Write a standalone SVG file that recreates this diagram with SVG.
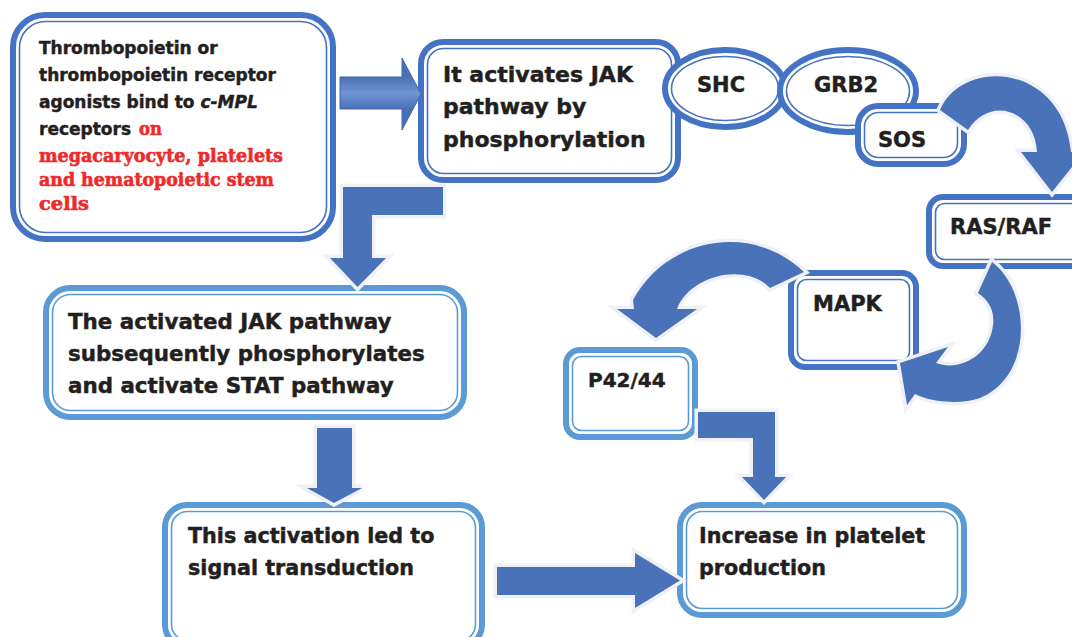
<svg xmlns="http://www.w3.org/2000/svg" width="1072" height="637" viewBox="0 0 1072 637">
  <defs>
    <linearGradient id="g1" x1="0" y1="77" x2="0" y2="109" gradientUnits="userSpaceOnUse">
      <stop offset="0" stop-color="#4a70b6"/>
      <stop offset="0.5" stop-color="#6f95d4"/>
      <stop offset="1" stop-color="#4a70b6"/>
    </linearGradient>
  </defs>
  <style>
    .ob { fill: #ffffff; stroke: #4472c4; stroke-width: 6; }
    .ib { fill: none; stroke: #4472c4; stroke-width: 1.6; }
    .obl { fill: #ffffff; stroke: #5b9bd5; stroke-width: 6; }
    .ibl { fill: none; stroke: #5b9bd5; stroke-width: 1.6; }
    .t { font-family: "DejaVu Sans", "Liberation Sans", sans-serif; font-weight: bold; fill: #231f20; stroke: #231f20; stroke-width: 0.45; }
    .r { font-family: "DejaVu Serif", "Liberation Serif", serif; font-weight: bold; fill: #ee2a2a; stroke: #ee2a2a; stroke-width: 0.6; }
    .blk { fill: #4a72b8; stroke: #eff1f6; stroke-width: 7; stroke-linejoin: miter; paint-order: stroke; }
  </style>
  <rect width="1072" height="637" fill="#ffffff"/>

  <g id="node-tpo">
    <rect class="ob" x="13" y="15" width="320" height="224" rx="32"/>
    <rect class="ib" x="19.5" y="21.5" width="307" height="211" rx="26"/>
    <text class="t" font-size="17" x="39" y="54">Thrombopoietin or</text>
    <text class="t" font-size="17" x="39" y="81">thrombopoietin receptor</text>
    <text class="t" font-size="17" x="39" y="108">agonists bind to <tspan font-style="italic">c-MPL</tspan></text>
    <text class="t" font-size="17" x="39" y="135">receptors</text>
    <text class="r" font-size="18" x="139" y="135" textLength="23" lengthAdjust="spacingAndGlyphs">on</text>
    <text class="r" font-size="18" x="39" y="162" textLength="244" lengthAdjust="spacingAndGlyphs">megacaryocyte, platelets</text>
    <text class="r" font-size="18" x="39" y="186" textLength="235" lengthAdjust="spacingAndGlyphs">and hematopoietic stem</text>
    <text class="r" font-size="18" x="39" y="210" textLength="50" lengthAdjust="spacingAndGlyphs">cells</text>
  </g>

  <g id="node-jak">
    <rect class="ob" x="421" y="42" width="257" height="138" rx="22"/>
    <rect class="ib" x="427.5" y="48.5" width="244" height="125" rx="16"/>
    <text class="t" font-size="22" x="443" y="82">It activates JAK</text>
    <text class="t" font-size="22" x="443" y="114">pathway by</text>
    <text class="t" font-size="22" x="443" y="147">phosphorylation</text>
  </g>

  <g id="node-shc">
    <ellipse class="ob" cx="725" cy="88.5" rx="60" ry="38.5"/>
    <ellipse class="ib" cx="725" cy="88.5" rx="53.5" ry="32"/>
    <text class="t" font-size="21" x="721" y="92" text-anchor="middle">SHC</text>
  </g>

  <g id="node-grb2">
    <ellipse class="ob" cx="848" cy="91" rx="68" ry="41"/>
    <ellipse class="ib" cx="848" cy="91" rx="61.5" ry="34.5"/>
    <text class="t" font-size="21" x="814" y="92">GRB2</text>
  </g>

  <g id="node-sos">
    <rect class="ob" x="858" y="106" width="106" height="58" rx="20"/>
    <rect class="ib" x="864.5" y="112.5" width="93" height="45" rx="14"/>
    <text class="t" font-size="21" x="878" y="147">SOS</text>
  </g>

  <g id="node-rasraf">
    <rect class="ob" x="929" y="197" width="160" height="69" rx="14"/>
    <rect class="ib" x="935.5" y="203.5" width="147" height="56" rx="9"/>
    <text class="t" font-size="21" x="950" y="234">RAS/RAF</text>
  </g>

  <g id="node-mapk">
    <rect class="ob" x="791" y="273" width="125" height="94" rx="14"/>
    <rect class="ib" x="797.5" y="279.5" width="112" height="81" rx="9"/>
    <text class="t" font-size="21" x="813" y="311">MAPK</text>
  </g>

  <g id="node-p4244">
    <rect class="obl" x="566" y="350" width="129" height="87" rx="14"/>
    <rect class="ibl" x="572.5" y="356.5" width="116" height="74" rx="9"/>
    <text class="t" font-size="20" x="588" y="387">P42/44</text>
  </g>

  <g id="node-stat">
    <rect class="obl" x="46" y="288" width="418" height="129" rx="24"/>
    <rect class="ibl" x="52.5" y="294.5" width="405" height="116" rx="18"/>
    <text class="t" font-size="21.4" x="68" y="329">The activated JAK pathway</text>
    <text class="t" font-size="21.4" x="68" y="361">subsequently phosphorylates</text>
    <text class="t" font-size="21.4" x="68" y="393">and activate STAT pathway</text>
  </g>

  <g id="node-signal">
    <rect class="obl" x="165" y="505" width="317" height="142" rx="22"/>
    <rect class="ibl" x="171.5" y="511.5" width="304" height="129" rx="16"/>
    <text class="t" font-size="20.7" x="188" y="543">This activation led to</text>
    <text class="t" font-size="20.7" x="188" y="575">signal transduction</text>
  </g>

  <g id="node-platelet">
    <rect class="obl" x="680" y="505" width="284" height="110" rx="22"/>
    <rect class="ibl" x="686.5" y="511.5" width="271" height="97" rx="16"/>
    <text class="t" font-size="20.7" x="699" y="543">Increase in platelet</text>
    <text class="t" font-size="20.7" x="699" y="575">production</text>
  </g>

  <g id="connectors">
    <path d="M340,77 L402,77 L402,58 L421,94 L402,130 L402,109 L340,109 Z" fill="url(#g1)" stroke="#4168ae" stroke-width="1"/>
    <path class="blk" d="M443,187 L443,215 L372,215 L372,258 L386,258 L357.5,287 L330,258 L343,258 L343,187 Z"/>
    <path class="blk" d="M317,428 L352,428 L352,488 L362,488 L334,503 L307,488 L317,488 Z"/>
    <path class="blk" d="M497,567 L635,567 L635,553 L680,580.5 L635,608 L635,595 L497,595 Z"/>
    <path class="blk" d="M698,412 L775,412 L775,477 L786,477 L764,500 L742,477 L753,477 L753,438 L698,438 Z"/>
    <path class="blk" d="M940,110 C962,58 1062,62 1071,152 L1084,152 L1052,192 L1021,152 L1037,152 C1035,110 990,95 968,130 Z"/>
    <path class="blk" d="M992,262 C1030,290 1035,375 980,398 C960,405 930,402 915,394 L907,405 L900,363 L948,347 L936,363 C960,372 990,355 993,325 C995,310 988,300 978,293 Z"/>
    <path class="blk" d="M804,272 C752,222 667,237 633,300 L634,309 L617,309 L656,338 L697,309 L677,309 C690,275 745,262 770,288 Z"/>
  </g>
</svg>
